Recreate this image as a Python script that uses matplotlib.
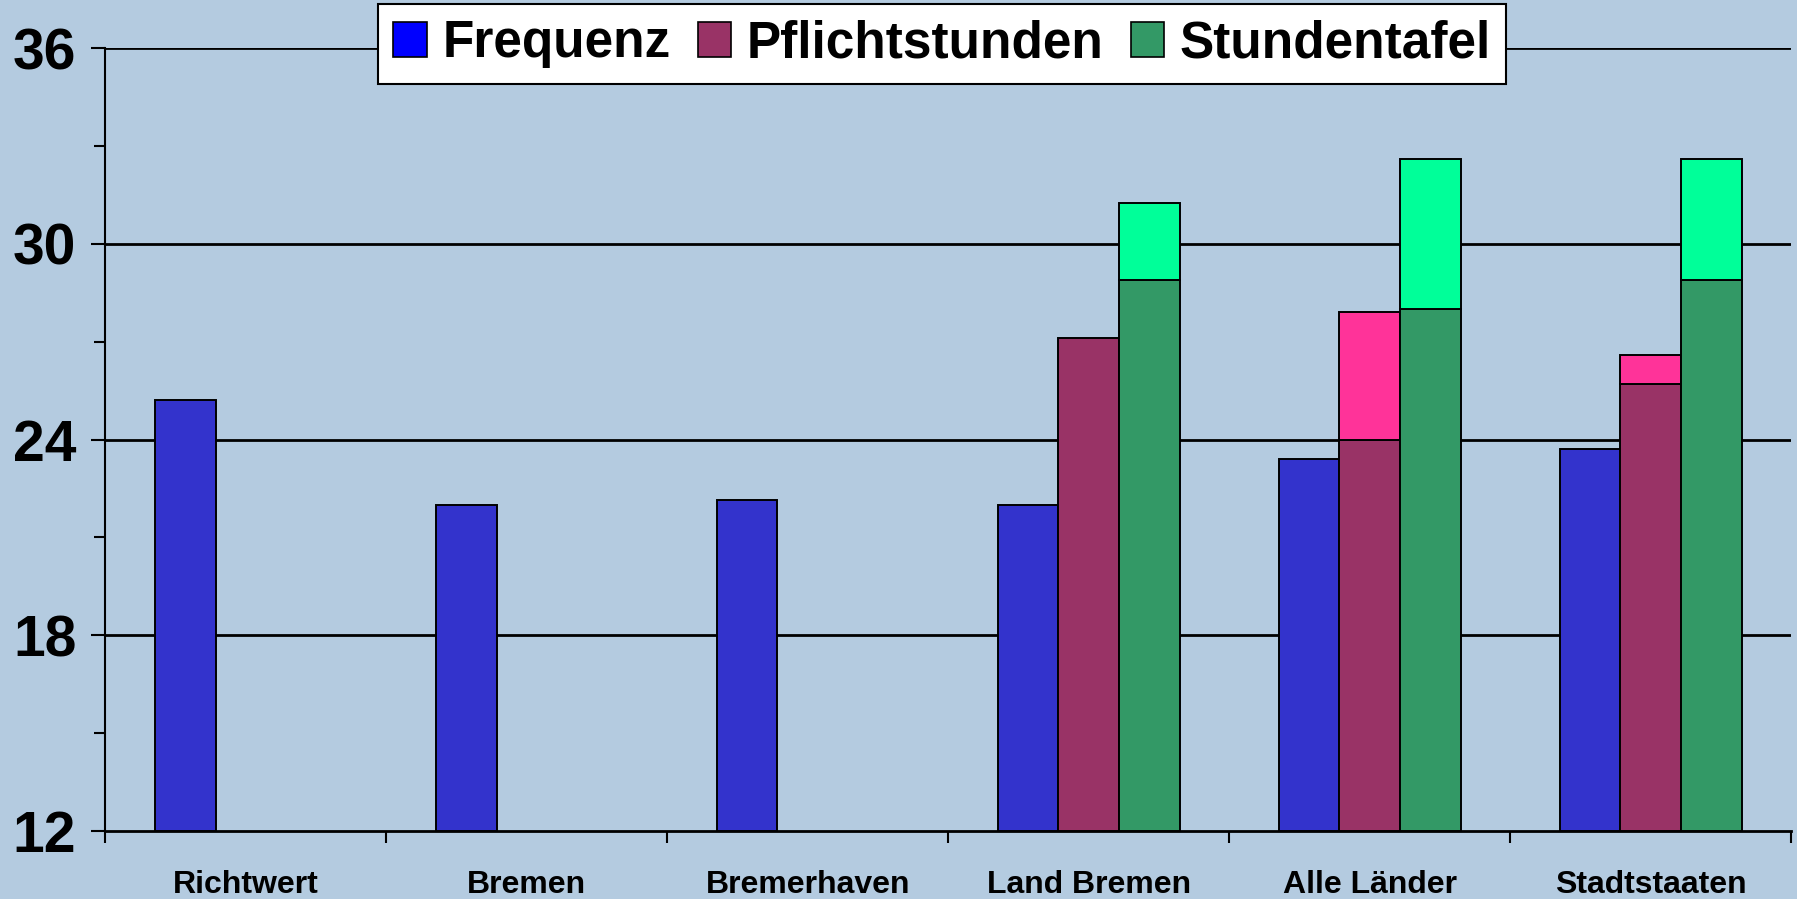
import numpy as np
import matplotlib
matplotlib.use("Agg")
import matplotlib.pyplot as plt
from matplotlib.patches import Patch

categories = ["Richtwert", "Bremen", "Bremerhaven", "Land Bremen", "Alle Länder", "Stadtstaaten"]
frequenz = [25.2, 22.0, 22.15, 22.0, 23.4, 23.7]
pflicht = [np.nan, np.nan, np.nan, 27.1, 24.0, 25.7]
pflicht_upper = [np.nan, np.nan, np.nan, np.nan, 27.9, 26.6]
stundentafel = [np.nan, np.nan, np.nan, 28.9, 28.0, 28.9]
stundentafel_upper = [np.nan, np.nan, np.nan, 31.25, 32.6, 32.6]
series_names = ["Frequenz", "Pflichtstunden", "Stundentafel"]
yticks = [12, 18, 24, 30, 36]

BG = "#B4CBE0"
C_BLUE = "#3333CC"
C_PINK = "#993366"
C_HOT = "#FF3399"
C_GREEN = "#339966"
C_LGREEN = "#00FF99"
FONT = "Liberation Sans"

fig = plt.figure(figsize=(17.97, 8.99), dpi=100, facecolor=BG)
ax = fig.add_axes([0.0587, 0.0756, 0.938, 0.871])
ax.set_facecolor("none")

x = np.arange(len(categories))
w = 0.216
base = 12
ec = "black"
lw = 1.4

f = np.array(frequenz)
p = np.array(pflicht)
pu = np.array(pflicht_upper)
s = np.array(stundentafel)
su = np.array(stundentafel_upper)

ax.bar(x - w, f - base, w, bottom=base, color=C_BLUE, edgecolor=ec, linewidth=lw, zorder=3)
ax.bar(x, p - base, w, bottom=base, color=C_PINK, edgecolor=ec, linewidth=lw, zorder=3)
ax.bar(x, pu - p, w, bottom=p, color=C_HOT, edgecolor=ec, linewidth=lw, zorder=3)
ax.bar(x + w, s - base, w, bottom=base, color=C_GREEN, edgecolor=ec, linewidth=lw, zorder=3)
ax.bar(x + w, su - s, w, bottom=s, color=C_LGREEN, edgecolor=ec, linewidth=lw, zorder=3)

ax.set_xlim(-0.5, len(categories) - 0.5)
ax.set_ylim(12, 36)

for yv in yticks[1:]:
    ax.axhline(yv, color="black", linewidth=2.0, zorder=1)

for side in ["top", "right"]:
    ax.spines[side].set_visible(False)
ax.spines["left"].set_linewidth(1.5)
ax.spines["bottom"].set_linewidth(2.0)
ax.spines["bottom"].set_zorder(2)

ax.set_yticks(yticks)
ax.set_yticks([15, 21, 27, 33], minor=True)
ax.set_yticklabels([str(v) for v in yticks], fontsize=41, fontweight="bold", family=FONT)
ax.tick_params(axis="y", which="major", length=10, width=1.5, pad=11, direction="out")
ax.tick_params(axis="y", which="minor", length=8, width=1.5, direction="out")

ax.set_xticks(x)
ax.set_xticklabels(categories, fontsize=23, fontweight="bold", family=FONT)
ax.set_xticks(np.arange(-0.5, len(categories)), minor=True)
ax.tick_params(axis="x", which="major", length=0, pad=28)
ax.tick_params(axis="x", which="minor", length=8.6, width=1.5, direction="out")

handles = [Patch(facecolor="#0000FF", edgecolor="black", linewidth=1.2),
           Patch(facecolor=C_PINK, edgecolor="black", linewidth=1.2),
           Patch(facecolor=C_GREEN, edgecolor="black", linewidth=1.2)]
leg = fig.legend(handles, series_names, loc="upper center",
                 bbox_to_anchor=(942 / 1797, 1 - 4 / 899), ncol=3,
                 prop={"family": FONT, "weight": "bold", "size": 37},
                 handlelength=0.65, handleheight=0.65, handletextpad=0.3,
                 columnspacing=0.53, borderpad=0.3, borderaxespad=0,
                 fancybox=False, framealpha=1, edgecolor="black", facecolor="white")
leg.get_frame().set_linewidth(1.5)

fig.savefig("out.png", dpi=100, facecolor=BG)
